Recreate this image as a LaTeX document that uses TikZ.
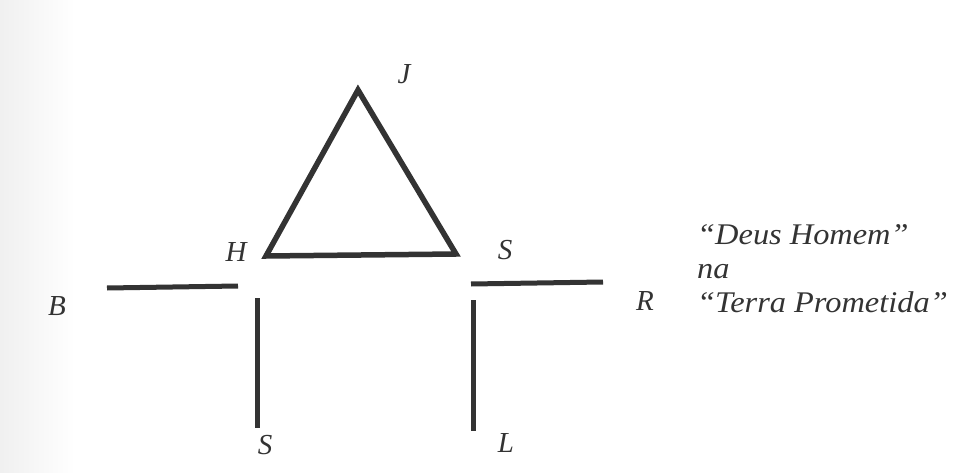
\documentclass[tikz,border=0pt]{standalone}
\usepackage{fontspec}
\setmainfont{Liberation Serif}
\newfontfamily\widefont[FakeStretch=1.08,Ligatures=TeX]{Liberation Serif}
\begin{document}
\begin{tikzpicture}[x=1pt,y=-1pt,
  bar/.style={draw=black!80,line width=5pt},
  lbl/.style={font=\fontsize{29}{33}\selectfont\itshape,inner sep=0pt,text=black!80},
  txt/.style={font=\widefont\fontsize{30}{34}\selectfont\itshape,inner sep=0pt,text=black!80,align=left,anchor=west}]
\useasboundingbox (0,0) rectangle (965,473);
\shade[left color=black!6,right color=white] (0,0) rectangle (75,473);
% triangle
\coordinate (J) at (358,90);
\coordinate (H) at (266,256);
\coordinate (S1) at (456,254);
\draw[bar,line width=5.5pt,line join=miter] (J) -- (H) -- (S1) -- cycle;
% bars
\coordinate (b1) at (107,288);
\coordinate (b2) at (238,286);
\coordinate (v1) at (257,298);
\coordinate (v2) at (257,428);
\coordinate (r1) at (471,284);
\coordinate (r2) at (603,282);
\coordinate (l1) at (473,300);
\coordinate (l2) at (473,431);
\draw[bar] (b1) -- (b2);
\draw[bar] (v1) -- (v2);
\draw[bar] (r1) -- (r2);
\draw[bar] (l1) -- (l2);
% labels
\node[lbl] (lJ) at (404,74) {J};
\node[lbl] (lH) at (236,252) {H};
\node[lbl] (lS1) at (505,250) {S};
\node[lbl] (lB) at (57,306) {B};
\node[lbl] (lR) at (645,301) {R};
\node[lbl] (lS2) at (265,445) {S};
\node[lbl] (lL) at (506,443) {L};
\node[txt] (t) at (697,269) {“Deus Homem”\\na\\“Terra Prometida”};
\end{tikzpicture}
\end{document}
